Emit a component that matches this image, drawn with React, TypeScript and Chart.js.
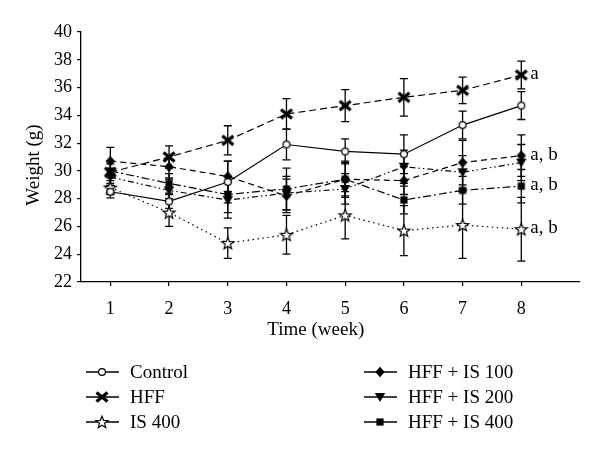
import React, { useEffect, useRef } from 'react';
import { Chart, registerables } from 'chart.js';

Chart.register(...registerables);

// ---------------- data ----------------
const weeks = [1, 2, 3, 4, 5, 6, 7, 8];

const control = [28.5, 27.8, 29.2, 31.9, 31.4, 31.2, 33.3, 34.7];
const controlErr = [0.45, 0.5, 1.5, 1.1, 0.9, 1.4, 1.0, 1.0];

const hff = [29.9, 31.0, 32.2, 34.1, 34.7, 35.3, 35.8, 36.9];
const hffErr = [0.8, 0.8, 1.05, 1.1, 1.15, 1.35, 0.95, 1.0];

const is400 = [28.8, 27.0, 24.8, 25.4, 26.8, 25.7, 26.1, 25.8];
const is400Err = [0.5, 1.0, 1.1, 1.4, 1.7, 1.8, 2.4, 2.3];

const hffIs100 = [30.7, 30.3, 29.6, 28.2, 29.4, 29.3, 30.6, 31.1];
const hffIs100Err = [1.0, 0.8, 1.1, 1.2, 1.3, 1.0, 1.6, 1.5];

const hffIs200 = [29.55, 28.6, 27.9, 28.4, 28.7, 30.3, 29.9, 30.6];
const hffIs200Err = [0.6, 0.8, 1.3, 1.2, 1.1, 1.2, 1.2, 1.3];

const hffIs400 = [30.0, 29.1, 28.3, 28.7, 29.4, 27.9, 28.6, 28.9];
const hffIs400Err = [0.5, 0.7, 1.3, 1.5, 1.2, 1.0, 1.0, 1.2];

const seriesNames = ['Control', 'HFF', 'IS 400', 'HFF + IS 100', 'HFF + IS 200', 'HFF + IS 400'];
const xTitle = 'Time (week)';
const yTitle = 'Weight (g)';
const yMin = 22;
const yMax = 40;
const yStep = 2;

// significance labels at the last week: [series index, text]
const annotationSeries = [1, 3, 5, 2];
const annotationTexts = ['a', 'a, b', 'a, b', 'a, b'];

// ---------------- styles ----------------
const FONT = '"Liberation Serif", "Times New Roman", serif';
const values = [control, hff, is400, hffIs100, hffIs200, hffIs400];
const errors = [controlErr, hffErr, is400Err, hffIs100Err, hffIs200Err, hffIs400Err];
const markerKinds = ['circle', 'x', 'star', 'diamond', 'tri', 'square'];
const dashes: number[][] = [
  [],
  [7, 4],
  [1.5, 3.5],
  [6, 4],
  [6, 3, 1.5, 3, 1.5, 3],
  [8, 3, 2, 3],
];

function makeMarker(kind: string): HTMLCanvasElement {
  const s = 18;
  const c = document.createElement('canvas');
  c.width = s;
  c.height = s;
  const g = c.getContext('2d')!;
  const m = s / 2;
  g.fillStyle = '#000';
  g.strokeStyle = '#000';
  g.lineWidth = 1.2;
  g.beginPath();
  if (kind === 'circle') {
    g.arc(m, m, 3.4, 0, Math.PI * 2);
    g.fillStyle = '#fff';
    g.fill();
    g.stroke();
  } else if (kind === 'x') {
    g.lineWidth = 3.2;
    g.moveTo(m - 5.5, m - 4.5);
    g.lineTo(m + 5.5, m + 4.5);
    g.moveTo(m - 5.5, m + 4.5);
    g.lineTo(m + 5.5, m - 4.5);
    g.stroke();
  } else if (kind === 'star') {
    const ro = 6.4;
    const ri = 2.7;
    for (let i = 0; i < 10; i++) {
      const r = i % 2 === 0 ? ro : ri;
      const a = -Math.PI / 2 + (i * Math.PI) / 5;
      const px = m + r * Math.cos(a);
      const py = m + 0.5 + r * Math.sin(a);
      if (i === 0) g.moveTo(px, py);
      else g.lineTo(px, py);
    }
    g.closePath();
    g.fillStyle = '#fff';
    g.fill();
    g.stroke();
  } else if (kind === 'diamond') {
    g.moveTo(m, m - 5.2);
    g.lineTo(m + 4.7, m);
    g.lineTo(m, m + 5.2);
    g.lineTo(m - 4.7, m);
    g.closePath();
    g.fill();
  } else if (kind === 'tri') {
    g.moveTo(m - 5.2, m - 4);
    g.lineTo(m + 5.2, m - 4);
    g.lineTo(m, m + 5);
    g.closePath();
    g.fill();
  } else if (kind === 'square') {
    g.rect(m - 3.6, m - 3.6, 7.2, 7.2);
    g.fill();
  }
  return c;
}

export default function App() {
  const ref = useRef<HTMLCanvasElement | null>(null);

  useEffect(() => {
    if (!ref.current) return;
    const markers = markerKinds.map(makeMarker);

    const errorBars = {
      id: 'errorBars',
      beforeDatasetsDraw(chart: any) {
        const { ctx, scales } = chart;
        const xs = scales.x;
        const ys = scales.y;
        ctx.save();
        ctx.strokeStyle = '#000';
        ctx.lineWidth = 1.3;
        values.forEach((vals, si) => {
          vals.forEach((v, i) => {
            const e = errors[si][i];
            const x = xs.getPixelForValue(weeks[i]);
            const yt = ys.getPixelForValue(v + e);
            const yb = ys.getPixelForValue(v - e);
            ctx.beginPath();
            ctx.moveTo(x, yt);
            ctx.lineTo(x, yb);
            ctx.moveTo(x - 4, yt);
            ctx.lineTo(x + 4, yt);
            ctx.moveTo(x - 4, yb);
            ctx.lineTo(x + 4, yb);
            ctx.stroke();
          });
        });
        ctx.restore();
      },
    };

    const extras = {
      id: 'extras',
      afterDraw(chart: any) {
        const { ctx, scales } = chart;
        const xs = scales.x;
        const ys = scales.y;
        ctx.save();
        ctx.fillStyle = '#000';
        ctx.font = `19px ${FONT}`;
        // axis titles
        ctx.textAlign = 'center';
        ctx.textBaseline = 'middle';
        const xc = (xs.getPixelForValue(weeks[0]) + xs.getPixelForValue(weeks[weeks.length - 1])) / 2;
        ctx.fillText(xTitle, xc, 330);
        ctx.save();
        ctx.translate(34, 165);
        ctx.rotate(-Math.PI / 2);
        ctx.fillText(yTitle, 0, 0);
        ctx.restore();
        // significance labels
        ctx.textAlign = 'left';
        annotationSeries.forEach((si, k) => {
          const last = values[si].length - 1;
          const x = xs.getPixelForValue(weeks[last]) + 9;
          const y = ys.getPixelForValue(values[si][last]);
          ctx.fillText(annotationTexts[k], x, y - 1);
        });
        // legend
        const rowsY = [372, 397, 422];
        const cols = [
          { l0: 86, l1: 119, mx: 102, tx: 130 },
          { l0: 364, l1: 397, mx: 380, tx: 408 },
        ];
        seriesNames.forEach((name, i) => {
          const col = cols[Math.floor(i / 3)];
          const y = rowsY[i % 3];
          ctx.strokeStyle = '#000';
          ctx.lineWidth = 1.4;
          ctx.setLineDash([]);
          ctx.beginPath();
          ctx.moveTo(col.l0, y);
          ctx.lineTo(col.l1, y);
          ctx.stroke();
          const mk = markers[i];
          ctx.drawImage(mk, col.mx - mk.width / 2, y - mk.height / 2);
          ctx.fillText(name, col.tx, y + 1);
        });
        ctx.restore();
      },
    };

    const chart = new Chart(ref.current, {
      type: 'line',
      data: {
        datasets: seriesNames.map((name, si) => ({
          label: name,
          data: weeks.map((w, i) => ({ x: w, y: values[si][i] })),
          borderColor: '#000',
          borderWidth: 1.2,
          borderDash: dashes[si],
          fill: false,
          tension: 0,
          pointStyle: markers[si] as any,
          pointRadius: 5,
          pointBackgroundColor: '#000',
          pointBorderColor: '#000',
        })),
      },
      options: {
        animation: false,
        responsive: false,
        maintainAspectRatio: false,
        layout: { padding: { top: 32, right: 20, left: 0, bottom: 0 } },
        plugins: {
          legend: { display: false },
          tooltip: { enabled: false },
        },
        scales: {
          x: {
            type: 'linear',
            min: 0.5,
            max: 9,
            afterBuildTicks: (s: any) => {
              s.ticks = weeks.map((v) => ({ value: v }));
            },
            afterFit: (s: any) => {
              s.height = 453 - 282;
            },
            grid: {
              display: true,
              drawOnChartArea: false,
              drawTicks: true,
              tickLength: 4,
              color: '#000',
              lineWidth: 1.2,
            },
            border: { display: true, color: '#000', width: 1.3 },
            ticks: {
              color: '#000',
              font: { family: FONT, size: 18 },
              padding: 12,
              maxRotation: 0,
              autoSkip: false,
            },
          },
          y: {
            type: 'linear',
            min: yMin,
            max: yMax,
            afterFit: (s: any) => {
              s.width = 81;
            },
            grid: {
              display: true,
              drawOnChartArea: false,
              drawTicks: true,
              tickLength: 4,
              color: '#000',
              lineWidth: 1.2,
            },
            border: { display: true, color: '#000', width: 1.3 },
            ticks: {
              stepSize: yStep,
              color: '#000',
              font: { family: FONT, size: 18 },
              padding: 5,
            },
          },
        },
      },
      plugins: [errorBars, extras],
    } as any);

    return () => chart.destroy();
  }, []);

  return (
    <div style={{ position: 'absolute', left: 0, top: 0, width: 600, height: 453, background: '#fff' }}>
      <canvas ref={ref} width={600} height={453} style={{ display: 'block' }} />
    </div>
  );
}
